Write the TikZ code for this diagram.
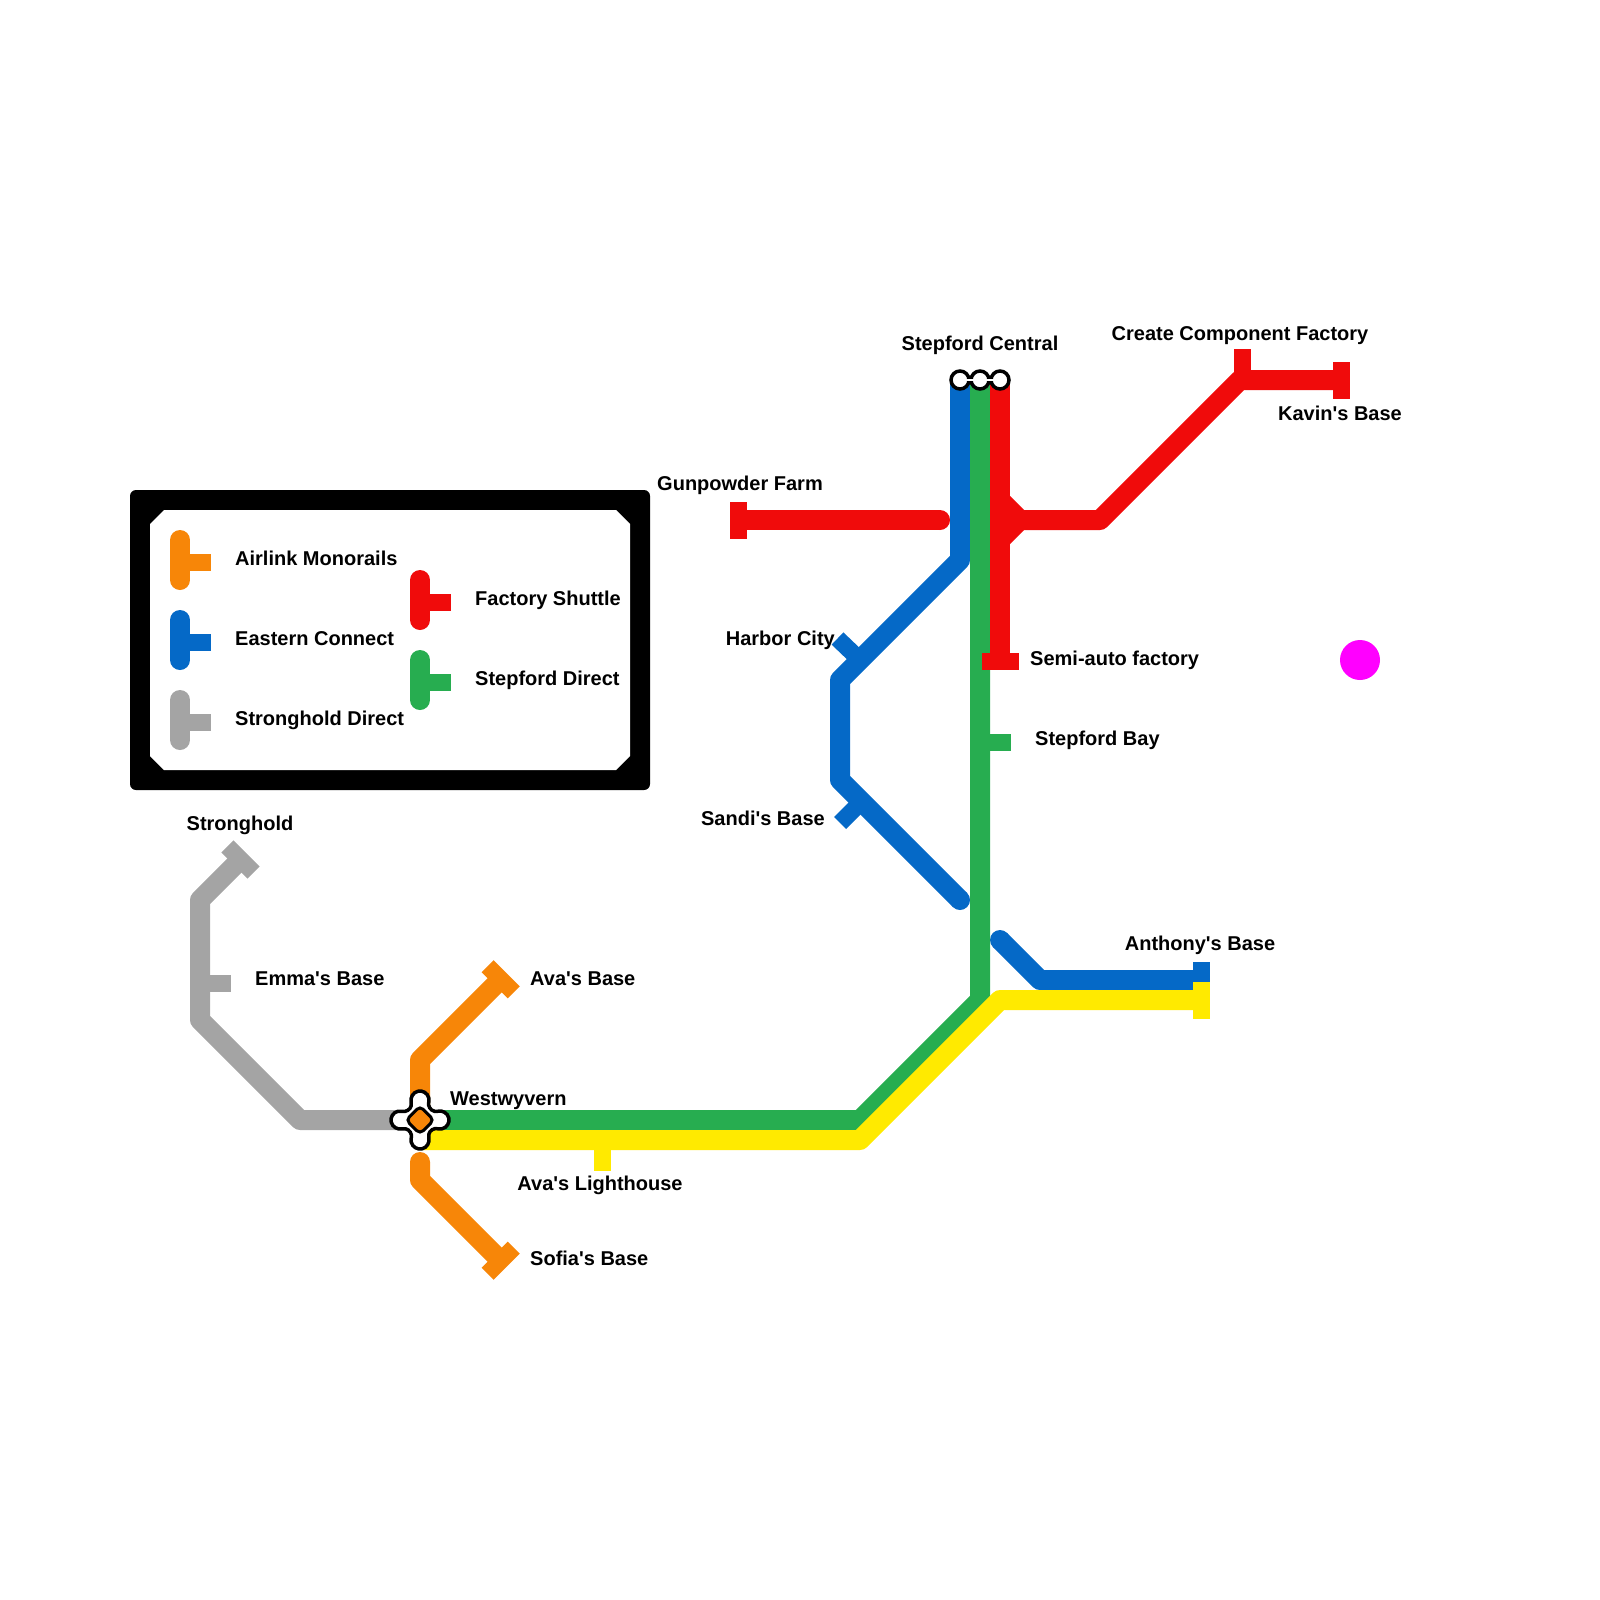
\documentclass[tikz,border=0pt]{standalone}
\usepackage{fontspec}
\newfontfamily\labelfont{Liberation Sans}
\usetikzlibrary{shapes.geometric}
\definecolor{lineOrange}{HTML}{F78608}
\definecolor{lineBlue}{HTML}{0569C7}
\definecolor{lineGreen}{HTML}{27AD50}
\definecolor{lineRed}{HTML}{F00B0B}
\definecolor{lineYellow}{HTML}{FFEA00}
\definecolor{lineGrey}{HTML}{A4A4A4}
\definecolor{markerMagenta}{HTML}{FF00FF}
\tikzset{
  route/.style={
    line width=20pt,
    line join=round
  },
  routeEnd/.style={
    route,
    line cap=round
  },
  stub/.style={
    line width=17pt
  },
  tee/.style={
    shape = rectangle,
    inner sep = 0,
    minimum width = 37pt,
    minimum height = 17pt
  },
  hub/.style={
    shape = circle,
    inner sep = 0,
    draw = black,
    fill = white,
    line width = 3.5pt,
    minimum size = 18pt
  },
  hubCore/.style={
    shape = diamond,
    inner sep = 0,
    aspect = 1
  },
  label/.style={
    inner sep = 0,
    font=\fontsize{20}{24}\selectfont\labelfont\bfseries
  }
}
\begin{document}
\begin{tikzpicture}[x=1pt,y=-1pt]
    \useasboundingbox (0,0) rectangle (1600,1600);

    %legend
    \fill[black, rounded corners=6pt] (130,490) rectangle (650,790);
    \fill[white] (164,510) -- (616,510) -- (630,524) -- (630,756) -- (616,770)
        -- (164,770) -- (150,756) -- (150,524) -- cycle;
    \coordinate (airlinkTop) at (180,540); \coordinate (airlinkEnd) at (180,580); \coordinate (airlinkTip) at (211,562.5);
    \coordinate (easternTop) at (180,620); \coordinate (easternEnd) at (180,660); \coordinate (easternTip) at (211,642.5);
    \coordinate (strongTop) at (180,700); \coordinate (strongEnd) at (180,740); \coordinate (strongTip) at (211,722.5);
    \coordinate (factoryTop) at (420,580); \coordinate (factoryEnd) at (420,620); \coordinate (factoryTip) at (451,602.5);
    \coordinate (directTop) at (420,660); \coordinate (directEnd) at (420,700); \coordinate (directTip) at (451,682.5);
    \draw[routeEnd, lineOrange] (airlinkTop) -- (airlinkEnd);
    \draw[stub, lineOrange] (airlinkTop |- airlinkTip) -- (airlinkTip);
    \draw[routeEnd, lineBlue] (easternTop) -- (easternEnd);
    \draw[stub, lineBlue] (easternTop |- easternTip) -- (easternTip);
    \draw[routeEnd, lineGrey] (strongTop) -- (strongEnd);
    \draw[stub, lineGrey] (strongTop |- strongTip) -- (strongTip);
    \draw[routeEnd, lineRed] (factoryTop) -- (factoryEnd);
    \draw[stub, lineRed] (factoryTop |- factoryTip) -- (factoryTip);
    \draw[routeEnd, lineGreen] (directTop) -- (directEnd);
    \draw[stub, lineGreen] (directTop |- directTip) -- (directTip);
    \node[label, anchor=base west] (airlink) at (235,565) {Airlink Monorails};
    \node[label, anchor=base west] (eastern) at (235,645) {Eastern Connect};
    \node[label, anchor=base west] (strongDirect) at (235,725) {Stronghold Direct};
    \node[label, anchor=base west] (factory) at (475,605) {Factory Shuttle};
    \node[label, anchor=base west] (direct) at (475,685) {Stepford Direct};

    %stations
    \coordinate (west) at (420,1120);
    \coordinate (westLow) at (420,1140);
    \coordinate (blueTop) at (960,380);
    \coordinate (greenTop) at (980,380);
    \coordinate (redTop) at (1000,380);
    \node[tee, rotate=-45, fill=lineGrey] (stronghold) at (240.5,859.5) {};
    \node[tee, rotate=-45, fill=lineOrange] (avaBase) at (500.7,979.3) {};
    \node[tee, rotate=45, fill=lineOrange] (sofia) at (500.7,1260.7) {};
    \node[tee, rotate=90, fill=lineRed] (gunpowder) at (738.5,520) {};
    \node[tee, rotate=90, fill=lineRed] (kavin) at (1341.5,380) {};
    \node[tee, rotate=90, fill=lineBlue] (anthonyB) at (1201.5,980) {};
    \coordinate (harbor) at (860.5,660.5);
    \coordinate (harborTip) at (837.5,638.5);
    \coordinate (sandi) at (861.5,801.5);
    \coordinate (sandiTip) at (840,823);
    \coordinate (emma) at (200,983);
    \coordinate (emmaTip) at (231,983);
    \coordinate (bay) at (980,742);
    \coordinate (bayTip) at (1011,742);
    \coordinate (lighthouse) at (602.5,1140);
    \coordinate (lighthouseTip) at (602.5,1171);
    \coordinate (create) at (1242.5,380);
    \coordinate (createTip) at (1242.5,349);

    %grey
    \draw[route, lineGrey] (stronghold.center) -- (200,900) -- (200,1020) -- (300,1120) -- (west);
    \draw[stub, lineGrey] (emma) -- (emmaTip);

    %orange
    \draw[route, lineOrange] (west) -- (420,1060) -- (avaBase.center);
    \coordinate (orangeStart) at (420,1162);
    \draw[route, lineOrange] (orangeStart) -- (420,1180) -- (sofia.center);
    \fill[lineOrange] (orangeStart) circle (10);

    %blue
    \draw[route, lineBlue] (blueTop) -- (960,560) -- (840,680) -- (840,780) -- (960,900);
    \fill[lineBlue] (960,900) circle (10);
    \draw[stub, lineBlue] (harbor) -- (harborTip);
    \draw[stub, lineBlue] (sandi) -- (sandiTip);
    \coordinate (blueRestart) at (1000,940);
    \draw[route, lineBlue] (blueRestart) -- (1040,980) -- (anthonyB.center);
    \fill[lineBlue] (blueRestart) circle (10);

    %green
    \draw[route, lineGreen] (greenTop) -- (980,1000) -- (860,1120) -- (west);
    \draw[stub, lineGreen] (bay) -- (bayTip);

    %yellow
    \node[tee, rotate=90, fill=lineYellow] (anthonyY) at (1201.5,1000) {};
    \draw[route, lineYellow] (westLow) -- (860,1140) -- (1000,1000) -- (anthonyY.center);
    \draw[stub, lineYellow] (lighthouse) -- (lighthouseTip);

    %red
    \coordinate (gunpowderEnd) at (940,520);
    \draw[route, lineRed] (gunpowder.center) -- (gunpowderEnd);
    \fill[lineRed] (gunpowderEnd) circle (10);
    \node[tee, fill=lineRed] (semi) at (1000,661.7) {};
    \draw[route, lineRed] (redTop) -- (semi.center);
    \fill[lineRed] (1010,496) -- (1024,510) -- (1024,530) -- (1010,544) -- cycle;
    \draw[route, lineRed] (1000,520) -- (1100,520) -- (1240,380) -- (kavin.center);
    \draw[stub, lineRed] (create) -- (createTip);

    %interchanges
    \node[hub] (stepA) at (blueTop) {};
    \node[hub] (stepB) at (greenTop) {};
    \node[hub] (stepC) at (redTop) {};
    \draw[white, line width=1.5pt] (stepA.center) -- (stepC.center);

    \draw[black, fill=white, line width=3.5pt] (411.24,1102.07)
        arc[start angle=166.7, end angle=373.3, radius=9]
        arc[start angle=193.3, end angle=76.7, radius=7.62]
        arc[start angle=256.7, end angle=463.3, radius=9]
        arc[start angle=283.3, end angle=166.7, radius=7.62]
        arc[start angle=-13.3, end angle=193.3, radius=9]
        arc[start angle=13.3, end angle=-103.3, radius=7.62]
        arc[start angle=76.7, end angle=283.3, radius=9]
        arc[start angle=103.3, end angle=-13.3, radius=7.62] -- cycle;
    \node[hubCore, draw=black, fill=lineOrange, line width=3pt, rounded corners=4.5pt, minimum size=29pt] (westCore) at (west) {};

    %magenta marker
    \node[circle, fill=markerMagenta, inner sep=0, minimum size=40pt] (marker) at (1360,660) {};

    %names
    \node[label, anchor=base] (centralName) at (980,350) {Stepford Central};
    \node[label, anchor=base] (createName) at (1240,340) {Create Component Factory};
    \node[label, anchor=base] (kavinName) at (1340,420) {Kavin's Base};
    \node[label, anchor=base] (gunpowderName) at (740,490) {Gunpowder Farm};
    \node[label, anchor=base east] (harborName) at (835,645) {Harbor City};
    \node[label, anchor=base west] (semiName) at (1030,665) {Semi-auto factory};
    \node[label, anchor=base west] (bayName) at (1035,745) {Stepford Bay};
    \node[label, anchor=base east] (sandiName) at (825,825) {Sandi's Base};
    \node[label, anchor=base] (anthonyName) at (1200,950) {Anthony's Base};
    \node[label, anchor=base] (strongholdName) at (240,830) {Stronghold};
    \node[label, anchor=base west] (emmaName) at (255,985) {Emma's Base};
    \node[label, anchor=base west] (avaName) at (530,985) {Ava's Base};
    \node[label, anchor=base west] (westName) at (450,1105) {Westwyvern};
    \node[label, anchor=base] (lighthouseName) at (600,1190) {Ava's Lighthouse};
    \node[label, anchor=base west] (sofiaName) at (530,1265) {Sofia's Base};
\end{tikzpicture}
\end{document}
